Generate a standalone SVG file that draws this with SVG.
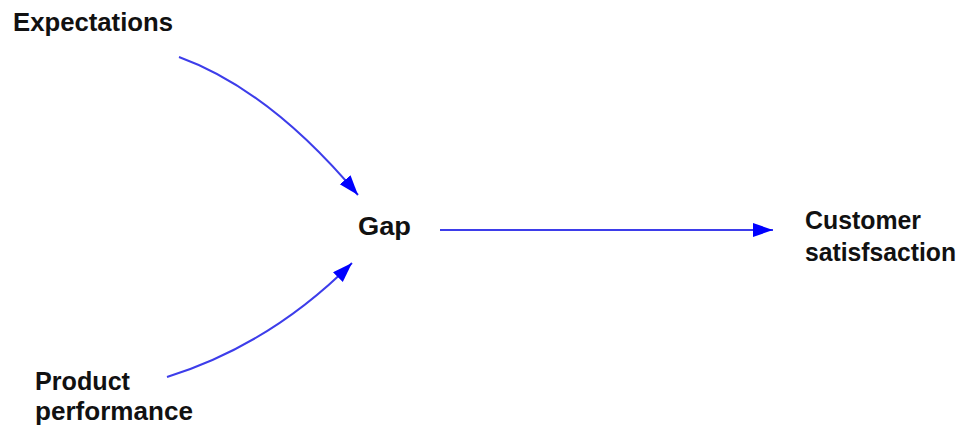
<svg xmlns="http://www.w3.org/2000/svg" width="959" height="429" viewBox="0 0 959 429">
<style>
.t{font-family:"Liberation Sans",Arial,sans-serif;font-weight:bold;font-size:25px;fill:#111}
.c{fill:none;stroke:#3d3dea;stroke-width:2}
</style>
<defs>
<marker id="ah" markerUnits="userSpaceOnUse" markerWidth="22" markerHeight="16" refX="20" refY="7" orient="auto">
<path d="M0,0 L20,7 L0,14 Z" fill="#0000ff"/>
</marker>
</defs>
<rect width="959" height="429" fill="#fff"/>
<g id="expectations"><text class="t" x="13" y="31" textLength="160" lengthAdjust="spacingAndGlyphs">Expectations</text></g>
<g id="gap"><text class="t" x="358" y="235" textLength="53" lengthAdjust="spacingAndGlyphs">Gap</text></g>
<g id="customer"><text class="t" x="805" y="229" textLength="116" lengthAdjust="spacingAndGlyphs">Customer</text><text class="t" x="805" y="261" textLength="151" lengthAdjust="spacingAndGlyphs">satisfsaction</text></g>
<g id="product"><text class="t" x="35" y="390" textLength="95" lengthAdjust="spacingAndGlyphs">Product</text><text class="t" x="35" y="420" textLength="158" lengthAdjust="spacingAndGlyphs">performance</text></g>
<g id="connectors">
<path class="c" d="M179,57 Q270,90 358,195" marker-end="url(#ah)"/>
<path class="c" d="M167,377 Q270,345 352,263" marker-end="url(#ah)"/>
<path class="c" d="M440,230 L773,230" marker-end="url(#ah)"/>
</g>
</svg>
